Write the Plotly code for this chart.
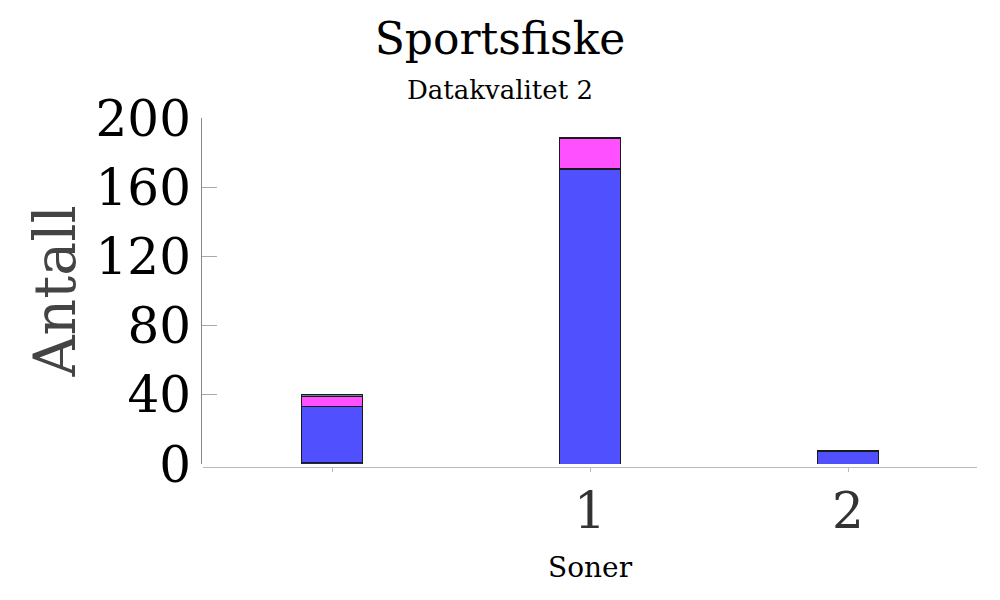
import plotly.graph_objects as go

categories = [0, 1, 2]
tick_labels = ["", "1", "2"]
y_ticks = [0, 40, 80, 120, 160, 200]

series_names = ["Serie A", "Serie B", "Serie C", "Serie D", "Serie E"]
serie_a = [1, 0, 0]
serie_b = [32, 170, 7]
serie_c = [0, 1, 0]
serie_d = [6, 17, 1]
serie_e = [1, 1, 0]
series_values = [serie_a, serie_b, serie_c, serie_d, serie_e]
series_colors = ["#23235a", "#5050ff", "#607878", "#ff50ff", "#5a8a8a"]

FONT = "DejaVu Serif"
OFF = 8  # page body margin
L, R, T, B = 201 - OFF, 23 + OFF, 118 - OFF, 600 - (467 - OFF)
PW, PH = 1000 - L - R, 600 - T - B

fig = go.Figure()
for name, vals, col in zip(series_names, series_values, series_colors):
    fig.add_trace(go.Bar(
        x=categories, y=vals, name=name, width=0.233,
        marker=dict(color=col, line=dict(color="#1a1a1a", width=1)),
    ))

fig.update_layout(
    barmode="stack",
    width=1000, height=600,
    paper_bgcolor="white", plot_bgcolor="white",
    showlegend=False,
    margin=dict(l=L, r=R, t=T, b=B, autoexpand=False),
    font=dict(family=FONT, color="black"),
    title=dict(text="Sportsfiske", x=(500 - OFF) / 1000, xanchor="center", y=1 - 31 / 600,
               yanchor="middle", yref="container", automargin=False,
               font=dict(size=44, color="black", family=FONT)),
    annotations=[dict(text="Datakvalitet 2", xref="paper", yref="paper",
                      x=(500 - OFF - L) / PW, y=(600 - B - (90 - OFF)) / PH,
                      xanchor="center", yanchor="middle", showarrow=False,
                      font=dict(size=26, color="black", family=FONT))],
    xaxis=dict(
        range=[-0.5, 2.5], tickvals=categories, ticktext=tick_labels,
        domain=[2 / PW, 1], anchor="free", position=0,
        showline=True, linecolor="#bbbbbb", linewidth=1,
        ticks="outside", ticklen=4, tickcolor="#bbbbbb",
        ticklabelstandoff=-4,
        tickfont=dict(size=50, color="#333333", family=FONT),
        title=dict(text="Soner", font=dict(size=28, color="black", family=FONT), standoff=18),
        showgrid=False, zeroline=False, automargin=False,
    ),
    yaxis=dict(
        range=[0, 200], tickvals=y_ticks,
        domain=[3 / PH, 1], anchor="free", position=0,
        showline=True, linecolor="#888888", linewidth=1,
        ticks="inside", ticklen=15, tickcolor="#aaaaaa",
        tickfont=dict(size=50, color="black", family=FONT),
        title=dict(text="Antall", font=dict(size=57, color="#444444", family=FONT), standoff=0),
        showgrid=False, zeroline=False, automargin=False,
    ),
)

fig.write_html("out.html")
